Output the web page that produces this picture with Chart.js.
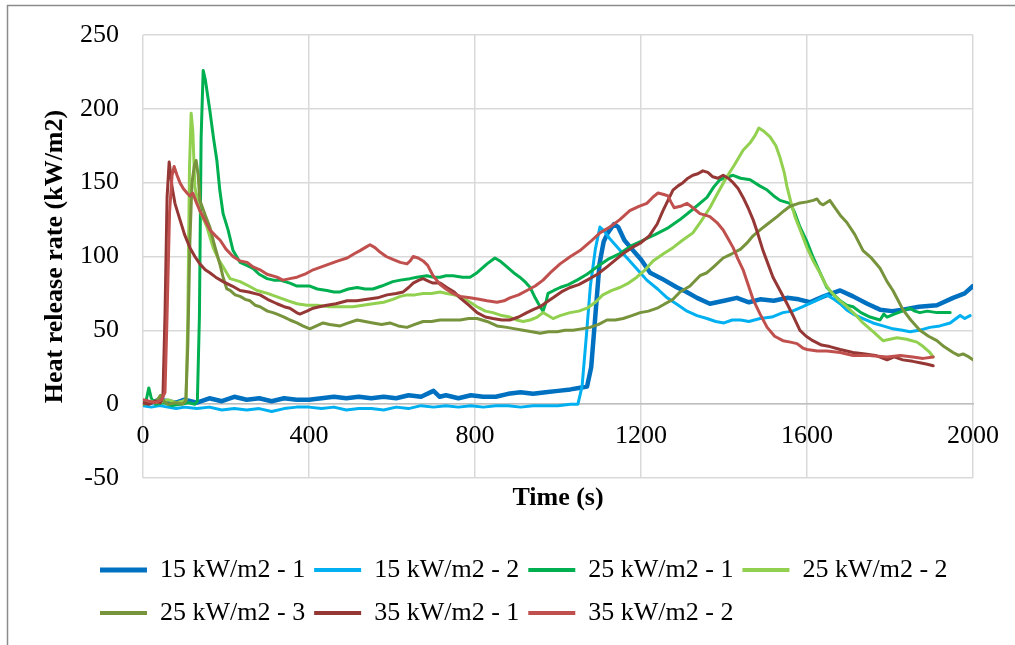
<!DOCTYPE html>
<html>
<head>
<meta charset="utf-8">
<script src="https://cdn.jsdelivr.net/npm/chart.js"></script>
<style>
html,body{margin:0;padding:0;background:#ffffff;}
canvas{display:block;}
</style>
</head>
<body>
<canvas id="c" width="1015" height="645"></canvas>
<script>
// ---------- data ----------
const seriesNames = ["15 kW/m2 - 1","15 kW/m2 - 2","25 kW/m2 - 1","25 kW/m2 - 2","25 kW/m2 - 3","35 kW/m2 - 1","35 kW/m2 - 2"];

const xTickValues = [0, 400, 800, 1200, 1600, 2000];
const yTickValues = [-50, 0, 50, 100, 150, 200, 250];

const s1Time = [0,20,40,60,80,100,130,160,190,220,250,280,310,340,370,400,430,460,490,520,550,580,610,640,670,700,715,730,760,790,820,850,880,910,940,970,1000,1030,1050,1070,1080,1090,1100,1110,1120,1135,1145,1160,1175,1200,1222,1250,1287,1310,1335,1366,1400,1431,1460,1487,1520,1552,1580,1607,1640,1680,1711,1745,1776,1805,1831,1870,1913,1952,1980,2000];
const s1Hrr  = [2,1,3,2,1,3,1,4,2,5,3,4,2,4,3,3,4,5,4,5,4,5,4,6,5,9,5,6,4,6,5,5,7,8,7,8,9,10,11,12,25,60,95,110,116,122,120,111,106,98,89,85,79,76,72,68,70,72,69,71,70,72,71,69,73,77,73,68,64,63,64,66,67,72,75,80];

const s2Time = [0,20,40,60,80,100,130,160,190,220,250,280,310,340,370,400,430,460,490,520,550,580,610,640,670,700,730,760,790,820,850,880,910,940,970,1000,1030,1048,1058,1068,1078,1090,1101,1112,1125,1150,1173,1195,1214,1240,1263,1290,1311,1335,1359,1380,1400,1420,1440,1460,1487,1515,1542,1565,1590,1620,1648,1665,1680,1695,1711,1735,1759,1783,1807,1830,1848,1870,1896,1920,1945,1969,1980,1993];
const s2Hrr  = [-1,-2,-1,-2,-3,-2,-3,-2,-4,-3,-4,-3,-5,-3,-2,-2,-3,-2,-4,-3,-3,-4,-2,-3,-1,-2,-1,-2,-1,-2,-1,-1,-2,-1,-1,-1,0,0,12,45,80,105,120,117,112,104,97,90,84,78,72,67,63,60,58,56,55,57,57,56,58,59,62,63,66,70,74,71,68,64,61,58,55,53,51,50,49,50,52,53,55,60,58,60];

const s3Time = [0,8,14,20,30,50,70,90,110,125,131,136,140,145,150,161,170,178,185,193,205,217,234,250,265,280,299,315,330,354,371,390,402,420,443,460,475,495,516,535,554,575,602,620,643,660,684,700,716,730,747,770,788,805,829,848,860,877,893,908,920,933,945,957,964,970,976,990,1005,1025,1046,1070,1094,1120,1149,1175,1205,1235,1263,1294,1325,1359,1375,1390,1410,1422,1440,1463,1485,1504,1520,1535,1559,1570,1583,1600,1614,1630,1648,1665,1680,1696,1711,1730,1752,1776,1785,1793,1810,1830,1848,1860,1872,1890,1913,1930,1945];
const s3Hrr  = [0,3,11,4,0,1,-1,0,1,0,2,60,180,226,220,199,180,165,145,129,118,104,96,94,92,88,85,84,84,82,80,80,80,78,77,76,76,78,79,78,78,80,83,84,85,86,87,86,86,87,87,86,86,89,95,99,97,93,89,86,83,79,72,66,63,68,75,77,79,81,84,88,93,98,102,107,111,115,119,125,132,140,147,152,154,155,153,152,148,145,141,138,136,130,120,110,100,90,79,74,70,67,66,62,59,57,61,59,61,63,65,63,62,63,62,62,62];

const s4Time = [0,20,40,60,80,95,104,108,112,116,120,125,137,154,169,182,193,210,234,255,275,300,330,350,371,395,419,450,475,506,530,554,580,602,620,636,655,675,695,716,732,750,771,788,805,825,843,865,884,900,916,933,950,964,976,988,1005,1029,1050,1070,1090,1108,1130,1149,1170,1190,1210,1229,1255,1277,1300,1325,1345,1366,1385,1407,1425,1446,1463,1475,1484,1495,1511,1525,1535,1545,1552,1561,1571,1585,1600,1615,1631,1645,1655,1675,1696,1715,1735,1760,1783,1800,1817,1840,1865,1880,1896,1904];
const s4Hrr  = [0,2,1,3,1,2,3,60,160,197,185,147,131,120,106,98,93,85,83,80,77,75,72,70,68,67,67,66,66,66,67,68,69,71,73,74,74,75,75,76,75,74,72,69,66,63,62,60,59,57,56,57,59,62,60,58,60,62,63,65,69,74,77,79,82,86,91,97,102,106,111,116,124,133,143,154,162,172,177,182,187,185,181,175,167,157,147,137,127,117,106,97,89,81,77,71,66,61,55,49,43,44,45,44,42,39,35,32];

const s5Time = [0,20,35,42,50,60,80,95,103,108,113,118,124,128,133,137,150,161,170,178,186,193,202,210,222,234,246,258,270,282,300,313,323,340,354,371,385,402,418,434,450,475,495,516,535,554,575,595,615,636,655,675,695,716,735,764,785,805,829,853,877,897,916,937,957,977,998,1017,1036,1057,1077,1098,1118,1138,1157,1178,1198,1218,1239,1258,1277,1294,1318,1342,1359,1375,1398,1420,1440,1455,1470,1487,1505,1528,1545,1559,1580,1600,1615,1624,1632,1639,1655,1665,1680,1696,1715,1735,1755,1776,1793,1807,1820,1831,1850,1872,1893,1913,1930,1952,1965,1976,1990,2000];
const s5Hrr  = [0,1,3,6,2,0,1,0,2,40,110,150,162,165,155,138,128,120,110,102,94,86,78,77,74,73,71,70,67,66,63,62,61,59,57,55,53,51,53,55,54,53,55,57,56,55,54,55,53,52,54,56,56,57,57,57,58,58,56,53,52,51,50,49,48,49,49,50,50,51,52,54,57,57,58,60,62,63,65,68,71,76,80,87,89,93,99,102,105,109,114,118,122,127,131,134,136,137,138,139,136,135,138,134,128,123,115,104,99,92,83,77,70,64,57,50,46,43,39,35,33,34,32,30];

const s6Time = [0,15,30,42,48,53,58,63,67,70,77,89,100,113,125,137,150,161,175,193,215,234,255,282,300,323,340,354,370,378,395,410,425,443,465,492,515,540,565,588,610,627,640,651,665,675,690,699,716,732,750,764,785,805,825,843,865,884,905,925,940,957,972,988,1008,1029,1050,1070,1095,1118,1140,1157,1178,1198,1220,1239,1253,1265,1277,1290,1301,1313,1325,1337,1349,1361,1373,1385,1398,1410,1422,1434,1446,1458,1470,1482,1494,1506,1518,1535,1552,1568,1583,1598,1614,1635,1655,1680,1711,1740,1765,1793,1810,1831,1855,1872,1890,1904];
const s6Hrr  = [1,0,2,1,5,60,140,164,155,147,136,125,115,106,100,95,91,89,86,83,80,77,76,74,71,68,66,65,62,61,63,65,66,67,68,70,70,71,72,74,75,76,79,82,84,85,83,82,82,79,76,72,67,62,59,58,57,57,59,62,64,66,69,72,76,79,81,84,88,93,98,102,106,109,114,122,131,138,145,148,150,153,155,156,158,157,154,153,155,153,150,146,140,133,125,115,104,95,86,77,68,59,50,46,43,40,39,37,35,34,33,30,32,30,29,28,27,26];

const s7Time = [0,15,30,45,53,58,64,70,75,82,89,97,106,113,120,128,137,150,161,175,186,200,217,234,251,265,282,299,323,337,354,371,390,410,430,450,470,492,510,523,535,547,559,571,586,602,620,636,644,651,663,675,686,699,716,730,747,765,788,810,829,853,870,884,905,925,945,964,985,1005,1030,1053,1078,1101,1125,1149,1173,1195,1214,1228,1241,1255,1265,1272,1280,1295,1311,1325,1342,1355,1366,1383,1398,1410,1422,1434,1446,1458,1470,1487,1504,1522,1542,1560,1576,1590,1600,1625,1648,1680,1711,1750,1793,1825,1855,1880,1904];
const s7Hrr  = [3,2,1,3,8,60,130,155,161,155,150,146,143,141,143,137,131,124,118,114,111,105,100,97,96,93,91,88,86,84,85,86,88,91,93,95,97,99,102,104,106,108,106,103,100,98,96,95,97,100,99,97,94,87,81,78,75,73,72,71,70,69,70,72,74,77,80,84,90,95,100,104,110,116,120,125,131,134,136,140,143,142,141,137,133,134,136,133,129,128,127,123,118,112,106,98,91,81,71,61,52,46,43,42,41,38,37,36,36,35,33,33,32,33,32,31,32];

const seriesTimes = [s1Time, s2Time, s3Time, s4Time, s5Time, s6Time, s7Time];
const seriesValues = [s1Hrr, s2Hrr, s3Hrr, s4Hrr, s5Hrr, s6Hrr, s7Hrr];

// ---------- styles ----------
const seriesColors = ["#0070C0","#00B0F0","#00B050","#92D050","#77933C","#953735","#C0504D"];
const seriesWidths = [4.5, 3, 3, 3, 3, 3, 3];
const FONT = "'Liberation Serif','Times New Roman',serif";
const GRID = "#d9d9d9";

const canvas = document.getElementById('c');
const ctx = canvas.getContext('2d');

function toPoints(t, v) { return t.map((x, i) => ({x: x, y: v[i]})); }

const LEG_PAD = 9, LEG_BOXH = 34, LEG_ROW = LEG_BOXH + LEG_PAD;
function bandPattern(color, thick, center) {
  const c = document.createElement('canvas');
  c.width = 4; c.height = LEG_ROW;
  const g = c.getContext('2d');
  g.fillStyle = color;
  const ph = ((center % LEG_ROW) + LEG_ROW) % LEG_ROW;
  [-LEG_ROW, 0, LEG_ROW].forEach(o => g.fillRect(0, ph + o - thick / 2, 4, thick));
  return ctx.createPattern(c, 'repeat');
}

const datasets = seriesNames.map((name, i) => ({
  label: name,
  data: toPoints(seriesTimes[i], seriesValues[i]),
  borderColor: seriesColors[i],
  backgroundColor: seriesColors[i],
  borderWidth: seriesWidths[i],
  pointRadius: 0,
  pointHoverRadius: 0,
  tension: 0,
  fill: false,
  borderJoinStyle: 'round',
  borderCapStyle: 'round',
  order: seriesNames.length - 1 - i,
  xAxisID: 'x',
  yAxisID: 'y'
}));

const chartTweaks = {
  id: 'chartTweaks',
  afterLayout(chart) {
    const lg = chart.legend;
    if (lg) { lg.left = 91; lg.right = 1012; }
  },
  afterDraw(chart) {
    const c = chart.ctx;
    c.save();
    c.strokeStyle = '#8c8c8c';
    c.lineWidth = 1.5;
    c.beginPath();
    c.moveTo(7.5, 645);
    c.lineTo(7.5, 5.5);
    c.lineTo(1015, 5.5);
    c.stroke();
    c.restore();
  }
};

new Chart(ctx, {
  type: 'line',
  data: { datasets: datasets },
  options: {
    responsive: false,
    animation: false,
    events: [],
    layout: { padding: { left: 8, right: 42, top: 35, bottom: 5 } },
    scales: {
      x: {
        type: 'linear', position: 'bottom',
        min: xTickValues[0], max: xTickValues[xTickValues.length - 1],
        ticks: { display: false, stepSize: xTickValues[1] - xTickValues[0] },
        grid: { color: GRID, lineWidth: 1.5, drawTicks: false },
        border: { display: false },
        title: { display: true, text: 'Time (s)', color: '#000',
                 font: { family: FONT, size: 26, weight: 'bold' }, padding: { top: 0, bottom: 30 } },
        afterFit(s) { s.height = 66; }
      },
      x2: {
        type: 'linear', axis: 'x', position: { y: 0 },
        min: xTickValues[0], max: xTickValues[xTickValues.length - 1],
        ticks: { stepSize: xTickValues[1] - xTickValues[0], padding: 16, color: '#000',
                 font: { family: FONT, size: 26 }, maxRotation: 0, autoSkip: false,
                 callback: (v) => String(v) },
        grid: { display: false, drawTicks: false },
        border: { display: true, color: '#bfbfbf', width: 1.5 }
      },
      y: {
        type: 'linear', position: 'left',
        min: yTickValues[0], max: yTickValues[yTickValues.length - 1],
        ticks: { stepSize: yTickValues[1] - yTickValues[0], padding: 24, color: '#000',
                 font: { family: FONT, size: 26 }, callback: (v) => String(v) },
        grid: { color: GRID, lineWidth: 1.5, drawTicks: false },
        border: { display: false },
        title: { display: true, text: 'Heat release rate (kW/m2)', color: '#000',
                 font: { family: FONT, size: 26, weight: 'bold' }, padding: { top: 32, bottom: 0 } },
        afterFit(s) { s.width = 135; s.paddingTop = 0; s.paddingBottom = 0; }
      }
    },
    plugins: {
      tooltip: { enabled: false },
      legend: {
        position: 'bottom', align: 'start',
        labels: {
          boxWidth: 47, boxHeight: LEG_BOXH, padding: LEG_PAD, color: '#000',
          font: { family: FONT, size: 26 },
          generateLabels(chart) {
            const lg = chart.legend;
            const top = (lg && isFinite(lg.top)) ? lg.top : 0;
            const center = top + LEG_PAD + LEG_BOXH / 2;
            return chart.data.datasets.map((ds, i) => ({
              text: ds.label,
              fillStyle: bandPattern(seriesColors[i], i === 0 ? 5 : 4, center),
              strokeStyle: 'rgba(0,0,0,0)',
              lineWidth: 0,
              hidden: false,
              fontColor: '#000',
              datasetIndex: i
            }));
          }
        }
      }
    }
  },
  plugins: [chartTweaks]
});
</script>
</body>
</html>
